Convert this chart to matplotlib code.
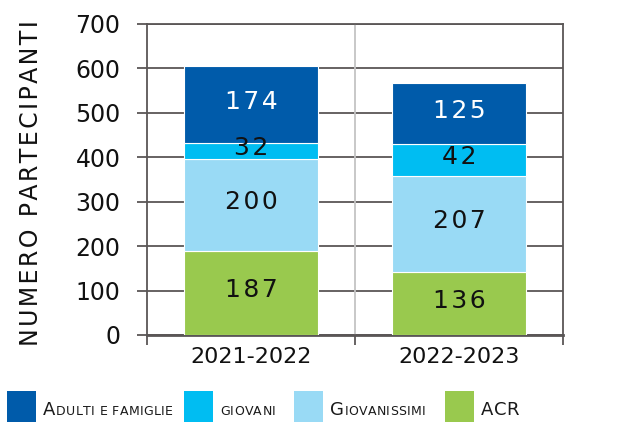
import matplotlib
matplotlib.use('Agg')
import matplotlib.pyplot as plt
import numpy as np
from matplotlib.patches import Rectangle

# categories
years = ['2021-2022', '2022-2023']

# segment heights as drawn in the original chart (bottom to top)
acr = [190, 141]
giovanissimi = [205, 217]
giovani = [38, 72]
adulti = [173, 137]

# numbers printed on the segments
acr_lbl = [187, 136]
giovanissimi_lbl = [200, 207]
giovani_lbl = [32, 42]
adulti_lbl = [174, 125]

legend_names = ['Adulti e famiglie', 'giovani', 'Giovanissimi', 'ACR']

C_ADULTI = '#005BAA'
C_GIOVANI = '#00BDF2'
C_GIOVANISSIMI = '#99DAF5'
C_ACR = '#99C94E'
GRID = '#5A5656'

fig = plt.figure(figsize=(6.22, 4.22), dpi=100)
ax = fig.add_axes([0.2363, 0.2062, 0.6688, 0.737])

x = np.arange(len(years))
bottom = np.zeros(len(years))
stack = [
    (acr, acr_lbl, C_ACR, '#111111'),
    (giovanissimi, giovanissimi_lbl, C_GIOVANISSIMI, '#111111'),
    (giovani, giovani_lbl, C_GIOVANI, '#111111'),
    (adulti, adulti_lbl, C_ADULTI, 'white'),
]
for vals, lbls, col, tcol in stack:
    vals = np.array(vals, dtype=float)
    ax.bar(x, vals, 0.64, bottom=bottom, color=col, edgecolor='white',
           linewidth=0.8, zorder=3)
    for xi, b, v, l in zip(x, bottom, vals, lbls):
        ax.text(xi, b + v / 2 + 6, '\u200a'.join(str(l)), ha='center', va='center',
                fontsize=18, color=tcol, zorder=4)
    bottom += vals

ax.set_xlim(-0.5, 1.5)
ax.set_ylim(0, 700)
ax.set_yticks(range(0, 701, 100))
ax.set_xticks(x)
ax.set_xticklabels(years, fontsize=16, color='#111111')
ax.set_xticks([-0.5, 0.5, 1.5], minor=True)
ax.tick_params(axis='x', which='major', length=0, pad=9)
ax.tick_params(axis='x', which='minor', length=7, width=1.3, color=GRID)
ax.tick_params(axis='y', length=7, width=1.3, color=GRID, labelsize=17, pad=12,
               labelcolor='#111111')

ax.yaxis.grid(True, color=GRID, linewidth=1.3, zorder=0)
ax.axvline(0.5, color='#c4c4c4', linewidth=1.3, zorder=1)
ax.set_axisbelow(True)

for side in ['left', 'right', 'top']:
    ax.spines[side].set_color(GRID)
    ax.spines[side].set_linewidth(1.3)
ax.spines['bottom'].set_color(GRID)
ax.spines['bottom'].set_linewidth(2)

# letter-spaced axis title
ax.set_ylabel('\u200a'.join('NUMERO PARTECIPANTI'), fontsize=17, color='#111111')
ax.yaxis.set_label_coords(-0.25, 0.49)

# legend with small caps, drawn in pixel coordinates
renderer = fig.canvas.get_renderer()


def smallcaps(xpix, ypix, s, big=13, small=9, track=0.4):
    for c in s:
        if c.islower():
            t = fig.text(xpix, ypix, c.upper(), fontsize=small, transform=None,
                         va='baseline', color='#1a1a1a')
        else:
            t = fig.text(xpix, ypix, c, fontsize=big, transform=None,
                         va='baseline', color='#1a1a1a')
        w = t.get_window_extent(renderer).width
        if c == ' ':
            w = small * 100 / 72 * 0.32
        xpix += w + track


leg_colors = [C_ADULTI, C_GIOVANI, C_GIOVANISSIMI, C_ACR]
patch_x = [7, 184, 294, 445]
for px, name, col in zip(patch_x, legend_names, leg_colors):
    fig.patches.append(Rectangle((px, 0), 29, 31, transform=None,
                                 facecolor=col, edgecolor='none'))
    smallcaps(px + 36, 7, name)

fig.savefig('out.png', dpi=100)
